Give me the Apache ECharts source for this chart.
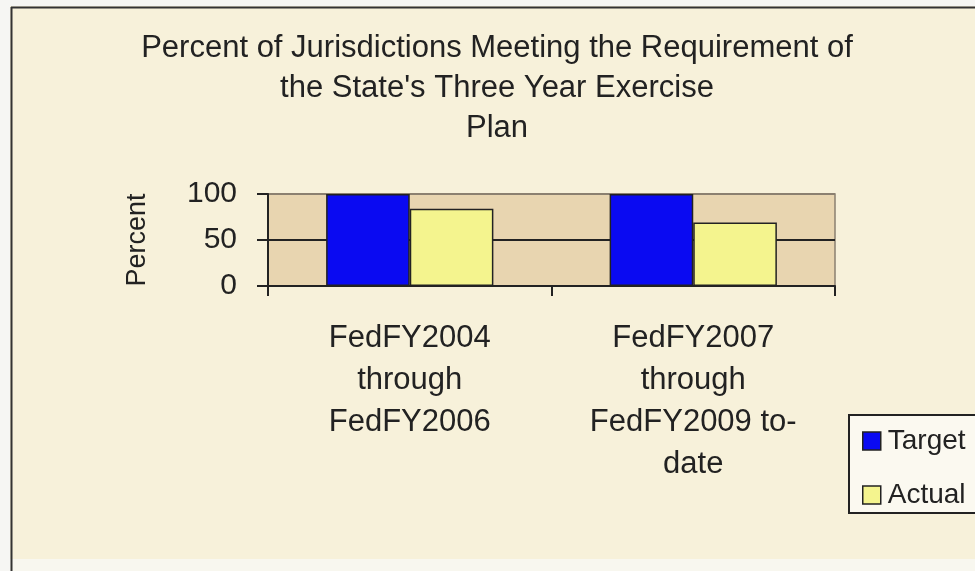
<!DOCTYPE html>
<html>
<head>
<meta charset="utf-8">
<script src="https://cdn.jsdelivr.net/npm/echarts@6/dist/echarts.min.js"></script>
<style>
  html, body { margin: 0; padding: 0; background: #fbfbf8; }
  #chart { width: 975px; height: 571px; }
</style>
</head>
<body>
<div id="chart"></div>
<script>
// data
var categories = ['FedFY2004\nthrough\nFedFY2006', 'FedFY2007\nthrough\nFedFY2009 to-\ndate'];
var targetValues = [100, 100];
var actualValues = [84, 69];
var seriesNames = ['Target', 'Actual'];
var yTicks = [0, 50, 100];

var titleText = 'Percent of Jurisdictions Meeting the Requirement of\nthe State\'s Three Year Exercise\nPlan';
var font = 'Liberation Sans, Arial, sans-serif';
var ink = '#222';

var myChart = echarts.init(document.getElementById('chart'));

var option = {
  backgroundColor: '#f7f1da',
  animation: false,
  textStyle: { fontFamily: font },
  title: {
    text: titleText,
    left: 497,
    top: 28,
    padding: 0,
    textAlign: 'center',
    textStyle: {
      fontFamily: font,
      fontSize: 31,
      fontWeight: 'normal',
      color: ink,
      lineHeight: 40
    }
  },
  legend: {
    orient: 'vertical',
    left: 849,
    top: 415,
    padding: [12, 40, 4, 13],
    itemGap: 26,
    itemWidth: 18,
    itemHeight: 18,
    icon: 'rect',
    backgroundColor: '#fbf9f0',
    borderColor: ink,
    borderWidth: 2,
    borderRadius: 0,
    itemStyle: { borderColor: ink, borderWidth: 1.5 },
    textStyle: { fontFamily: font, fontSize: 28, color: ink, padding: [0, 0, 0, 2] },
    data: seriesNames
  },
  grid: {
    left: 268,
    top: 194,
    right: 140,
    bottom: 285,
    show: true,
    backgroundColor: '#e8d5b0',
    borderColor: '#8b8070',
    borderWidth: 1.5,
    containLabel: false,
    outerBoundsMode: 'none'
  },
  xAxis: {
    type: 'category',
    data: categories,
    axisLine: { show: true, lineStyle: { color: ink, width: 2 } },
    axisTick: { show: true, length: 10, lineStyle: { color: ink, width: 2 } },
    axisLabel: {
      margin: 31,
      fontFamily: font,
      fontSize: 31,
      lineHeight: 42,
      color: ink,
      interval: 0
    },
    splitLine: { show: false }
  },
  yAxis: {
    type: 'value',
    min: yTicks[0],
    max: yTicks[yTicks.length - 1],
    interval: yTicks[1] - yTicks[0],
    name: 'Percent',
    nameLocation: 'middle',
    nameRotate: 90,
    nameGap: 117,
    nameTextStyle: { fontFamily: font, fontSize: 27, color: ink },
    axisLine: { show: true, lineStyle: { color: ink, width: 2 } },
    axisTick: { show: true, length: 11, lineStyle: { color: ink, width: 2 } },
    axisLabel: { margin: 31, fontFamily: font, fontSize: 30, color: ink },
    splitLine: { show: true, lineStyle: { color: [ink, ink, '#8b8070'], width: 2 } }
  },
  graphic: [
    { type: 'rect', shape: { x: 0, y: 0, width: 10, height: 571 }, style: { fill: '#f6f6f3' }, silent: true },
    { type: 'rect', shape: { x: 0, y: 0, width: 975, height: 6 }, style: { fill: '#f6f6f3' }, silent: true },
    { type: 'rect', shape: { x: 10, y: 559, width: 965, height: 12 }, style: { fill: '#f8f7ef' }, silent: true },
    { type: 'line', shape: { x1: 11.5, y1: 7, x2: 11.5, y2: 571 }, style: { stroke: '#333', lineWidth: 2 }, silent: true },
    { type: 'line', shape: { x1: 11, y1: 7.5, x2: 975, y2: 7.5 }, style: { stroke: '#333', lineWidth: 2 }, silent: true }
  ],
  series: [
    {
      name: seriesNames[0],
      type: 'bar',
      data: targetValues,
      barGap: '0%',
      barCategoryGap: '41%',
      itemStyle: { color: '#0a0af2', borderColor: ink, borderWidth: 1.5 }
    },
    {
      name: seriesNames[1],
      type: 'bar',
      data: actualValues,
      itemStyle: { color: '#f4f48e', borderColor: ink, borderWidth: 1.5 }
    }
  ]
};

myChart.setOption(option);
</script>
</body>
</html>
